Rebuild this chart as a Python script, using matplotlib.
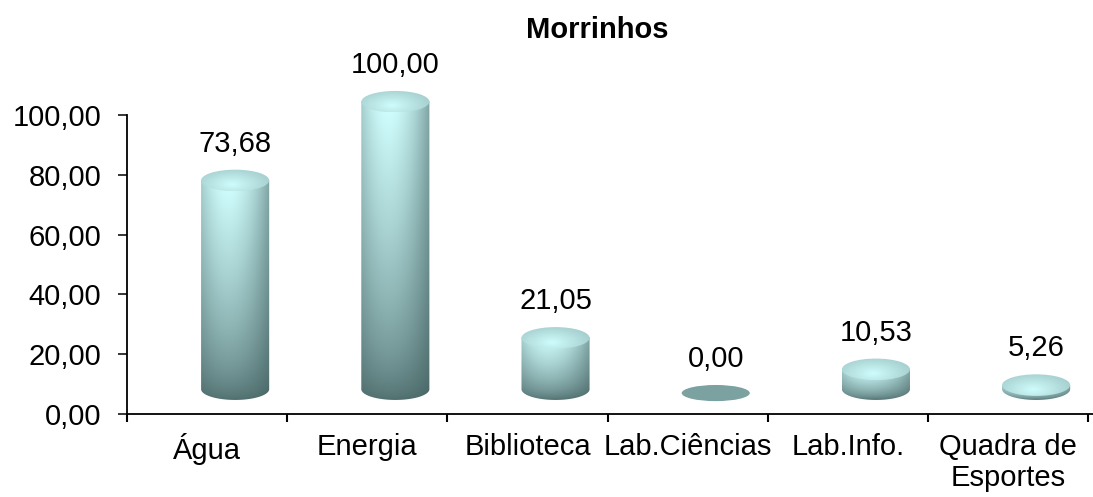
import numpy as np
import matplotlib
matplotlib.use("Agg")
import matplotlib.pyplot as plt
from matplotlib.path import Path
from matplotlib.patches import PathPatch, Ellipse

categories = ['Água', 'Energia', 'Biblioteca', 'Lab.Ciências', 'Lab.Info.', 'Quadra de\nEsportes']
values = [73.68, 100.00, 21.05, 0.00, 10.53, 5.26]
yticks = [0, 20, 40, 60, 80, 100]
title = 'Morrinhos'

FONT = 'Liberation Sans'
FS = 21
plt.rcParams['font.family'] = [FONT, 'DejaVu Sans']

W, H = 1093, 497
fig = plt.figure(figsize=(W / 100, H / 100), dpi=100)
ax = fig.add_axes([127 / W, 1 - 414 / H, 966 / W, 344 / H])

# style constants for the pseudo-3D cylinders
X_OFF = 0.175      # perspective shift to the right (category units)
HALF_W = 0.2125    # half width of cylinder (category units)
BASE = 8.3         # base ellipse center (value units)
TOP0 = 4.4         # top ellipse center offset (value units)
E_SEMI = 3.6       # ellipse semi-height (value units)
ZERO_Y = 7.0
ZERO_SEMI = 2.7

dark = np.array([0.24, 0.35, 0.35])
light = np.array([0.82, 1.0, 1.0])


def body_colors(nu, nt):
    u = np.linspace(0, 1, nu)[None, :]
    t = np.linspace(1, 0, nt)[:, None]  # top row first
    hor = np.where(u < 0.4, 1 - 0.3 * ((0.4 - u) / 0.4) ** 2,
                   1 - 0.55 * ((u - 0.4) / 0.6) ** 1.8)
    vert = 0.12 + 0.88 * np.clip(t, 0, 1) ** 0.65
    f = np.clip(hor * vert, 0, 1)[..., None]
    return dark + (light - dark) * f


def top_colors(nu, nt):
    u = np.linspace(0, 1, nu)[None, :]
    t = np.linspace(1, 0, nt)[:, None]
    r = np.sqrt(((u - 0.45) / 0.6) ** 2 + ((t - 0.3) / 0.8) ** 2)
    f = np.clip(0.98 - 0.28 * r, 0, 1)[..., None]
    return dark + (light - dark) * f


theta_top = np.linspace(np.pi, 0, 60)
theta_bot = np.linspace(0, -np.pi, 60)

for i, v in enumerate(values):
    cx = i + 0.5 + X_OFF
    if v <= 0:
        e = Ellipse((cx, ZERO_Y), 2 * HALF_W, 2 * ZERO_SEMI, angle=0,
                    facecolor='#7ca1a1', edgecolor='none', zorder=3)
        ax.add_patch(e)
        top_edge = ZERO_Y + ZERO_SEMI
    else:
        yt = max(TOP0 + v, BASE + 0.5)
        # body outline
        xs = np.concatenate([cx + HALF_W * np.cos(theta_top), cx + HALF_W * np.cos(theta_bot)])
        ys = np.concatenate([yt + E_SEMI * np.sin(theta_top), BASE + E_SEMI * np.sin(theta_bot)])
        verts = np.column_stack([xs, ys])
        verts = np.vstack([verts, verts[:1]])
        codes = [Path.MOVETO] + [Path.LINETO] * (len(verts) - 2) + [Path.CLOSEPOLY]
        body = PathPatch(Path(verts, codes), facecolor='none', edgecolor='none', transform=ax.transData)
        ax.add_patch(body)
        im = ax.imshow(body_colors(120, 300), extent=[cx - HALF_W, cx + HALF_W, BASE - E_SEMI, yt],
                       aspect='auto', interpolation='bilinear', zorder=3)
        im.set_clip_path(body)
        # top ellipse
        te = Ellipse((cx, yt), 2 * HALF_W, 2 * E_SEMI, facecolor='none', edgecolor='none',
                     transform=ax.transData)
        ax.add_patch(te)
        im2 = ax.imshow(top_colors(120, 60), extent=[cx - HALF_W, cx + HALF_W, yt - E_SEMI, yt + E_SEMI],
                        aspect='auto', interpolation='bilinear', zorder=4)
        im2.set_clip_path(te)
        top_edge = yt + E_SEMI
    ax.text(cx, top_edge + 8.7, f"{v:.2f}".replace('.', ','), ha='center', va='center',
            fontsize=FS, color='black', zorder=5)

ax.set_xlim(0, 6.03)
ax.set_ylim(0, 115)

for s in ['top', 'right']:
    ax.spines[s].set_visible(False)
ax.spines['left'].set_bounds(0, 100)
ax.spines['bottom'].set_bounds(0, 6.03)
for s in ['left', 'bottom']:
    ax.spines[s].set_linewidth(1.3)
    ax.spines[s].set_color('black')

ax.set_yticks(yticks)
ax.set_yticklabels([f"{t:.2f}".replace('.', ',') for t in yticks])
ax.tick_params(axis='y', direction='out', length=6.5, width=1.1, pad=12, labelsize=FS)

ax.set_xticks(np.arange(0, 7))
ax.set_xticklabels([])
ax.tick_params(axis='x', which='major', direction='out', length=5.5, width=1.5)
ax.set_xticks(np.arange(len(categories)) + 0.5, minor=True)
ax.set_xticklabels(categories, minor=True, fontsize=FS, linespacing=1.12)
ax.tick_params(axis='x', which='minor', length=0, pad=14)

fig.text(597 / W, 1 - 30 / H, title, ha='center', va='center', fontsize=FS,
         fontweight='bold')

fig.savefig('out.png', dpi=100)
